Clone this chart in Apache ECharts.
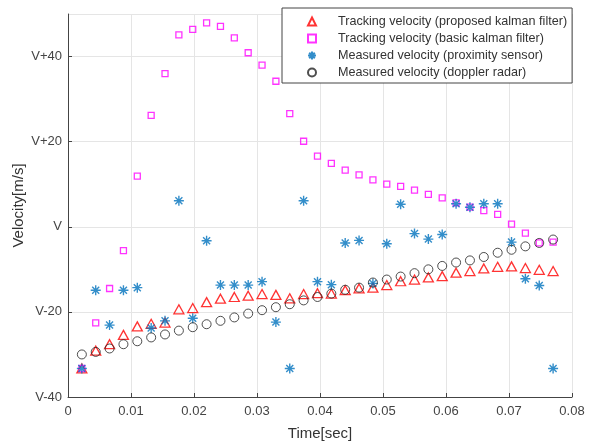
<!DOCTYPE html>
<html lang="en">
<head>
    <meta charset="utf-8">
    <title>Velocity tracking</title>
    <script src="https://cdn.jsdelivr.net/npm/echarts@6/dist/echarts.min.js"></script>
    <style>
        html, body { margin: 0; padding: 0; background: #fff; }
        #main { width: 592px; height: 443px; }
    </style>
</head>
<body>
    <div id="main"></div>
    <script>
        // sample times, one every 0.0022 s
        var times = [];
        for (var k = 1; k <= 35; k++) times.push(+(k * 0.0022).toFixed(4));

        var proposedKF = [-33.3, -29.1, -27.6, -25.4, -23.4, -22.8, -22.5, -19.4, -19.1, -17.7,
            -16.9, -16.5, -16.2, -15.8, -16.0, -16.8, -15.8, -15.6, -15.7, -14.9,
            -14.5, -14.3, -13.7, -12.8, -12.4, -11.9, -11.6, -10.8, -10.4, -9.8,
            -9.4, -9.3, -9.7, -10.1, -10.4];
        var basicKF = [-33.3, -22.6, -14.5, -5.6, 11.9, 26.2, 36.0, 45.1, 46.4, 47.9,
            47.1, 44.4, 40.9, 38.0, 34.2, 26.6, 20.1, 16.6, 14.9, 13.3,
            12.2, 11.0, 10.0, 9.5, 8.6, 7.6, 6.8, 5.6, 4.6, 3.8,
            2.9, 0.6, -1.5, -3.8, -3.6];
        var proximity = [-33.3, -14.9, -23.1, -14.9, -14.3, -23.8, -22.1, 6.1, -21.5, -3.3,
            -13.7, -13.7, -13.7, -12.9, -22.4, -33.3, 6.1, -12.9, -13.6, -3.8,
            -3.2, -13.3, -4.0, 5.3, -1.6, -2.9, -1.8, 5.4, 4.6, 5.4,
            5.4, -3.6, -12.2, -13.8, -33.3];
        var doppler = [-30.0, -29.4, -28.6, -27.6, -26.9, -26.0, -25.3, -24.4, -23.6, -22.9,
            -22.1, -21.3, -20.4, -19.6, -18.9, -18.2, -17.3, -16.5, -15.7, -14.8,
            -14.3, -13.1, -12.4, -11.7, -10.9, -10.0, -9.2, -8.4, -7.9, -7.1,
            -6.1, -5.4, -4.6, -3.8, -3.0];

        var names = [
            'Tracking velocity (proposed kalman filter)',
            'Tracking velocity (basic kalman filter)',
            'Measured velocity (proximity sensor)',
            'Measured velocity (doppler radar)'
        ];

        function pairs(vals) {
            return times.map(function (t, i) { return [t, vals[i]]; });
        }

        var asterisk = 'path://M0,-10L0,10M-10,0L10,0M-7,-7L7,7M-7,7L7,-7';
        var font = 'Liberation Sans, Arial, Helvetica, sans-serif';

        var myChart = echarts.init(document.getElementById('main'));
        myChart.setOption({
            animation: false,
            textStyle: { fontFamily: font },
            grid: { left: 68, right: 20, top: 14, bottom: 46, outerBoundsMode: 'none' },
            legend: {
                orient: 'vertical',
                left: 282,
                top: 8,
                padding: [6, 5, 3, 25],
                itemGap: 2,
                itemWidth: 8,
                itemHeight: 8,
                backgroundColor: '#fff',
                borderColor: '#444',
                borderWidth: 1,
                textStyle: {
                    fontSize: 12.6,
                    lineHeight: 15,
                    color: '#333',
                    fontFamily: font,
                    padding: [0, 0, 0, 17]
                },
                data: names
            },
            xAxis: {
                type: 'value',
                min: 0,
                max: 0.08,
                interval: 0.01,
                name: 'Time[sec]',
                nameLocation: 'middle',
                nameGap: 29,
                nameMoveOverlap: false,
                nameTextStyle: { fontSize: 15, color: '#333' },
                axisLine: { onZero: false, lineStyle: { color: '#444' } },
                axisTick: { inside: true, length: 4, lineStyle: { color: '#444' } },
                axisLabel: { fontSize: 13, color: '#444', margin: 8 },
                splitLine: { show: true, lineStyle: { color: '#e5e5e5' } }
            },
            yAxis: {
                type: 'value',
                min: -40,
                max: 50,
                interval: 20,
                name: 'Velocity[m/s]',
                nameLocation: 'middle',
                nameGap: 42,
                nameMoveOverlap: false,
                nameTextStyle: { fontSize: 15, color: '#333' },
                axisLine: { show: true, onZero: false, lineStyle: { color: '#444' } },
                axisTick: { show: true, inside: true, length: 4, lineStyle: { color: '#444' } },
                axisLabel: {
                    fontSize: 13,
                    color: '#444',
                    margin: 6,
                    showMaxLabel: false,
                    formatter: function (v) {
                        if (v === 0) return 'V';
                        return v > 0 ? 'V+' + v : 'V' + v;
                    }
                },
                splitLine: { show: true, lineStyle: { color: '#e5e5e5' } }
            },
            series: [
                {
                    name: names[0],
                    type: 'scatter',
                    symbol: 'triangle',
                    symbolSize: [10, 9],
                    itemStyle: { color: 'rgba(0,0,0,0)', borderColor: '#ff0000', borderWidth: 1.3 },
                    data: pairs(proposedKF)
                },
                {
                    name: names[1],
                    type: 'scatter',
                    symbol: 'rect',
                    symbolSize: 6,
                    itemStyle: { color: 'rgba(0,0,0,0)', borderColor: '#ff00ff', borderWidth: 1.3 },
                    data: pairs(basicKF)
                },
                {
                    name: names[2],
                    type: 'scatter',
                    symbol: asterisk,
                    symbolSize: 10,
                    itemStyle: { color: 'rgba(0,0,0,0)', borderColor: '#0072bd', borderWidth: 1.4 },
                    data: pairs(proximity)
                },
                {
                    name: names[3],
                    type: 'scatter',
                    symbol: 'circle',
                    symbolSize: 9,
                    itemStyle: { color: 'rgba(0,0,0,0)', borderColor: '#222', borderWidth: 1 },
                    data: pairs(doppler)
                }
            ]
        });
        window.onresize = myChart.resize;
    </script>
</body>
</html>
